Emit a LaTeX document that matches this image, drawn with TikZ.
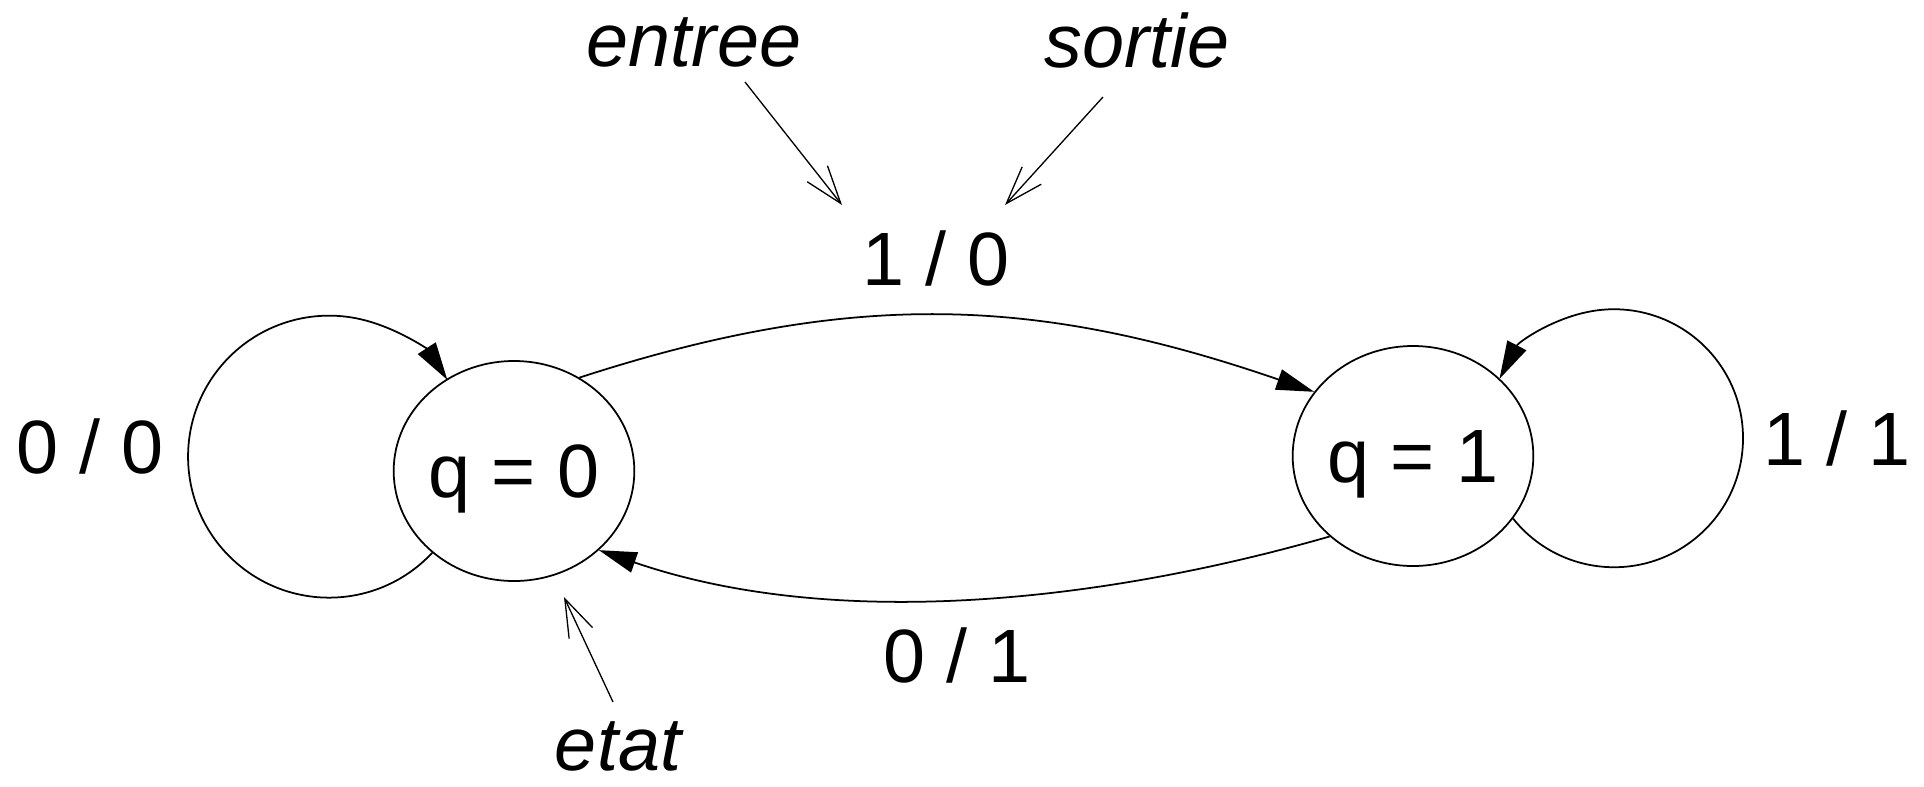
\documentclass[tikz,border=0pt]{standalone}
\usepackage{fontspec}
\setmainfont{Liberation Sans}
\usetikzlibrary{arrows.meta,shapes.geometric}
\tikzset{
  font={\fontsize{43pt}{50pt}\selectfont}}

\begin{document}
\begin{tikzpicture}[scale=0.2,
  state/.style={draw=black,line width=1pt,ellipse,minimum width=4.62cm,minimum height=4.4cm,text depth=0pt},
  trans/.style={black,line width=1pt,-{Triangle[length=21.5pt,width=12pt]}},
  note/.style={black,line width=0.75pt,-{Straight Barb[length=21.5pt,width=14.7pt]}},
  lbl/.style={anchor=base}]
\tikzstyle{every node}+=[inner sep=0pt]
\useasboundingbox (0,0) rectangle (192.4,-78.6);
\node [state] (q0) at (51.4,-47.1) {q = 0};
\node [state] (q1) at (141.3,-45.6) {q = 1};
\draw [trans] (q0.225) arc [start angle=-43, end angle=-327, radius=14.1];
\draw [trans] (q1.-32) arc [start angle=218.5, end angle=512.6, radius=12.9];
\draw [trans] (q0.55) .. controls +(18:29) and +(161:29) .. (q1.147);
\draw [trans] (q1.224) .. controls +(196:24.5) and +(-19:24.5) .. (q0.-43);
\node [lbl] (l00) at (9.0,-47.3) {0 / 0};
\node [lbl] (l10) at (93.6,-28.5) {1 / 0};
\node [lbl] (l01) at (95.7,-68.2) {0 / 1};
\node [lbl] (l11) at (183.7,-46.5) {1 / 1};
\node [lbl] (entree) at (69.4,-6.6) {\itshape entree};
\node [lbl] (sortie) at (113.7,-6.7) {\itshape sortie};
\node [lbl] (etat) at (61.8,-77.0) {\itshape etat};
\coordinate (entree from) at (74.5,-8.2);
\coordinate (entree to) at (84.2,-20.5);
\coordinate (sortie from) at (110.3,-9.7);
\coordinate (sortie to) at (100.5,-20.5);
\coordinate (etat from) at (61.3,-70.2);
\coordinate (etat to) at (56.4,-59.7);
\draw [note] (entree from) -- (entree to);
\draw [note] (sortie from) -- (sortie to);
\draw [note] (etat from) -- (etat to);
\end{tikzpicture}
\end{document}
